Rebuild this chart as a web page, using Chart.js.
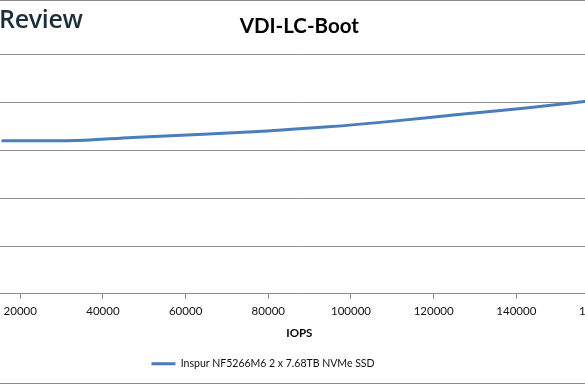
<!DOCTYPE html>
<html>
<head>
<meta charset="utf-8">
<script src="https://cdn.jsdelivr.net/npm/chart.js@4.4.1/dist/chart.umd.min.js"></script>
<style>
  html, body { margin: 0; padding: 0; background: #fff; overflow: hidden; }
  body { width: 585px; height: 385px; position: relative; }
  /* outer chart border, only top and bottom fall inside the crop */
  #frame { position: absolute; left: -10px; width: 605px; top: 0; height: 382px;
           border-top: 1px solid #8c8c8c; border-bottom: 1px solid #8c8c8c; }
  #wrap { position: absolute; left: -135px; top: 0; width: 796px; height: 385px; }
  #brand { position: absolute; left: -1px; top: 1px; font: 600 25px "Open Sans", sans-serif;
           color: #1b3038; letter-spacing: -0.3px; }
</style>
</head>
<body>
<div id="frame"></div>
<div id="wrap"><canvas id="chart"></canvas></div>
<div id="brand">Review</div>
<script>
'use strict';
// Values
const seriesName = 'Inspur NF5266M6 2 x 7.68TB NVMe SSD';
const iops = [15750, 31500, 47250, 63000, 78750, 94500, 110250, 126000, 141750, 157500];
const latency = [0.320, 0.320, 0.327, 0.333, 0.340, 0.349, 0.361, 0.375, 0.388, 0.403];
const xTicks = [0, 20000, 40000, 60000, 80000, 100000, 120000, 140000, 160000];

const lineBlue = '#4a7ebb';
const gridGrey = '#8c8c8c';

const ctx = document.getElementById('chart').getContext('2d');
new Chart(ctx, {
  type: 'line',
  data: {
    datasets: [{
      label: seriesName,
      data: iops.map((x, i) => ({x: x, y: latency[i]})),
      borderColor: lineBlue,
      backgroundColor: lineBlue,
      borderWidth: 3,
      borderCapStyle: 'round',
      pointRadius: 0,
      cubicInterpolationMode: 'monotone'
    }]
  },
  options: {
    responsive: true,
    maintainAspectRatio: false,
    animation: false,
    layout: {padding: {left: 0, right: 0, top: 0, bottom: 6}},
    plugins: {
      title: {
        display: true,
        text: 'VDI-LC-Boot',
        fullSize: false,
        color: '#000',
        font: {family: 'Lato', size: 20.5, weight: 'bold'},
        padding: {top: 14, bottom: 16}
      },
      legend: {
        position: 'bottom',
        labels: {
          color: '#111',
          font: {family: 'Lato', size: 10.5},
          usePointStyle: true,
          pointStyle: 'line',
          pointStyleWidth: 24,
          padding: 10
        }
      },
      tooltip: {enabled: false}
    },
    scales: {
      x: {
        type: 'linear',
        min: 0,
        max: 175000,
        afterBuildTicks: s => { s.ticks = xTicks.map(v => ({value: v})); },
        ticks: {
          color: '#111',
          font: {family: 'Lato', size: 11.5},
          padding: 5,
          maxRotation: 0,
          callback: v => String(v)
        },
        grid: {drawOnChartArea: false, drawTicks: true, tickLength: 5, color: gridGrey},
        border: {display: true, color: gridGrey},
        title: {
          display: true,
          text: 'IOPS',
          color: '#000',
          font: {family: 'Lato', size: 11.5, weight: 'bold'},
          padding: {top: 4, bottom: 8}
        }
      },
      y: {
        min: 0,
        max: 0.5,
        ticks: {display: false, stepSize: 0.1},
        afterFit: s => { s.width = 72.6; },
        grid: {drawTicks: false, color: gridGrey},
        border: {display: false}
      }
    }
  }
});
</script>
</body>
</html>
